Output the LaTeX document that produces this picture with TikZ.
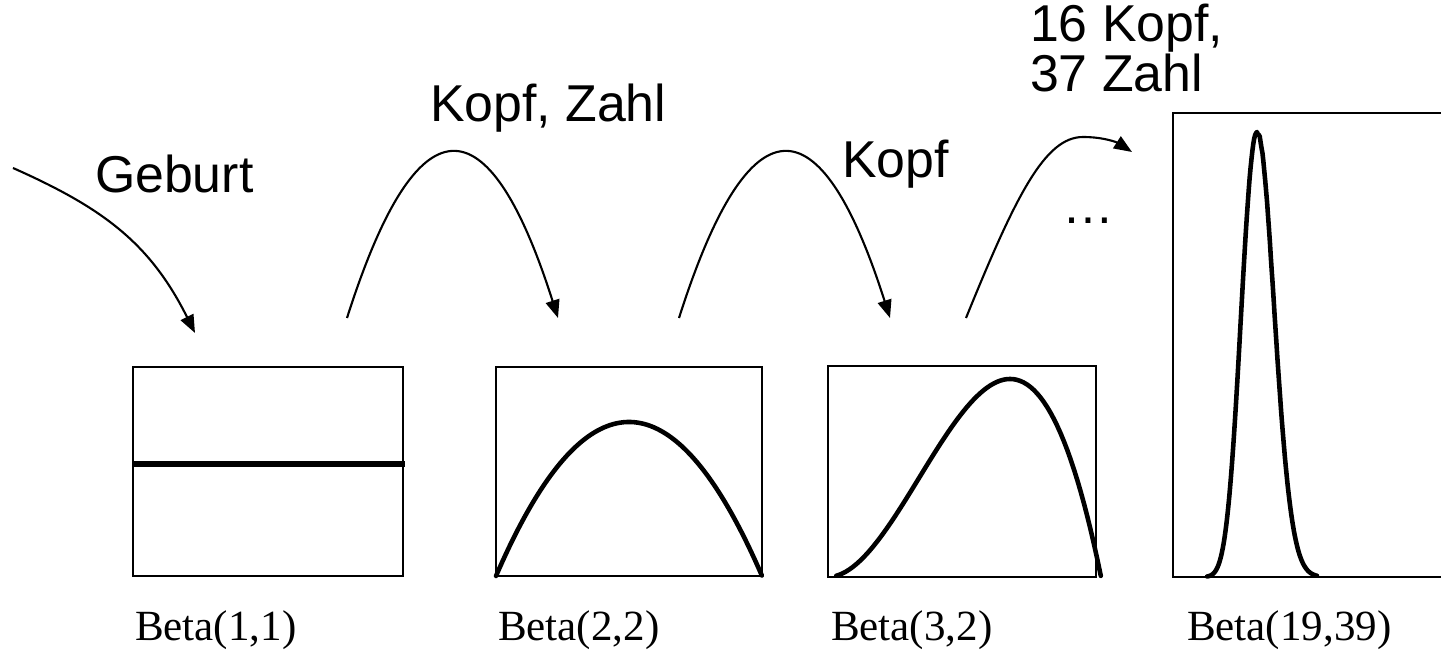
\documentclass[tikz,border=0pt]{standalone}
\usepackage{fontspec}
\setmainfont{Liberation Serif}
\newfontfamily\arialfont{Liberation Sans}
\usepackage{tikz}
\usetikzlibrary{arrows.meta,positioning}

\begin{document}
\begin{tikzpicture}[
    x=0.02cm, y=-0.02cm,
    every node/.style={inner sep=0pt, outer sep=0pt},
    plotbox/.style={rectangle, draw, line width=1.5pt},
    density/.style={line width=2.6pt, line join=round, line cap=round},
    flowarrow/.style={-{Triangle[length=0.36cm, width=0.28cm]}, line width=1.2pt},
    steplabel/.style={anchor=base west, font=\arialfont\fontsize{29.5}{36}\selectfont},
    betalabel/.style={anchor=base west, font=\fontsize{24.5}{30}\selectfont},
]
\useasboundingbox (0,0) rectangle (1441,658);
\clip (0,0) rectangle (1441,658);

% -------- boxes --------
\node[plotbox, minimum width=5.4cm,  minimum height=4.18cm] (b1) at (268,471.5) {};
\node[plotbox, minimum width=5.32cm, minimum height=4.18cm] (b2) at (629,471.5) {};
\node[plotbox, minimum width=5.36cm, minimum height=4.22cm] (b3) at (962,471.5) {};
\node[plotbox, minimum width=5.8cm,  minimum height=9.28cm] (b4) at (1318,345) {};

% -------- densities --------
\begin{scope}[shift={(b1.south west)}]
  \draw[line width=3.2pt] (0,-112) -- (272,-112);
\end{scope}
\begin{scope}[shift={(b2.south west)}]
  \draw[density] plot[domain=0:1, samples=80] (\x*266, {-616*\x*(1-\x)});
\end{scope}
\begin{scope}[shift={(b3.south west)}]
  \draw[density] plot[domain=0.03:1.0, samples=80] (\x*273, {-1336.5*\x*\x*(1-\x)});
\end{scope}
\begin{scope}[shift={(b4.south west)}]
  \draw[density] plot[domain=0.13:0.55, samples=120]
    (\x*262, {-447*exp(18*ln(\x/0.32143)+38*ln((1-\x)/0.67857))});
\end{scope}

% -------- labels --------
\node[betalabel] (l1) at (135,640) {Beta(1,1)};
\node[betalabel] (l2) at (498,640) {Beta(2,2)};
\node[betalabel] (l3) at (831,640) {Beta(3,2)};
\node[betalabel] (l4) at (1187,640) {Beta(19,39)};

\node[steplabel] (geburt) at (95,193) {Geburt};
\node[steplabel] (kz) at (430,122) {Kopf, Zahl};
\node[steplabel] (kopf) at (842,178) {Kopf};
\node[steplabel] (dots) at (1062,224) {…};
\node[steplabel] (many1) at (1030,42) {16 Kopf,};
\node[steplabel] (many2) at (1030,92) {37 Zahl};

% -------- arrows --------
\coordinate (g0) at (13,168);   \coordinate (g1) at (195,333);
\coordinate (a0) at (347,318);  \coordinate (a1) at (558,318);
\coordinate (k0) at (679,318);  \coordinate (k1) at (890,318);
\coordinate (n0) at (966,318);  \coordinate (n1) at (1132,152);

\draw[flowarrow] (g0) .. controls (103,208) and (150,243) .. (g1);
\draw[flowarrow] (a0) .. controls (417,98) and (488,98) .. (a1);
\draw[flowarrow] (k0) .. controls (749,98) and (820,98) .. (k1);
\draw[flowarrow] (n0) .. controls (1016,195) and (1045,137) .. (1083,137)
                      .. controls (1105,137) and (1118,143) .. (n1);

\end{tikzpicture}
\end{document}
